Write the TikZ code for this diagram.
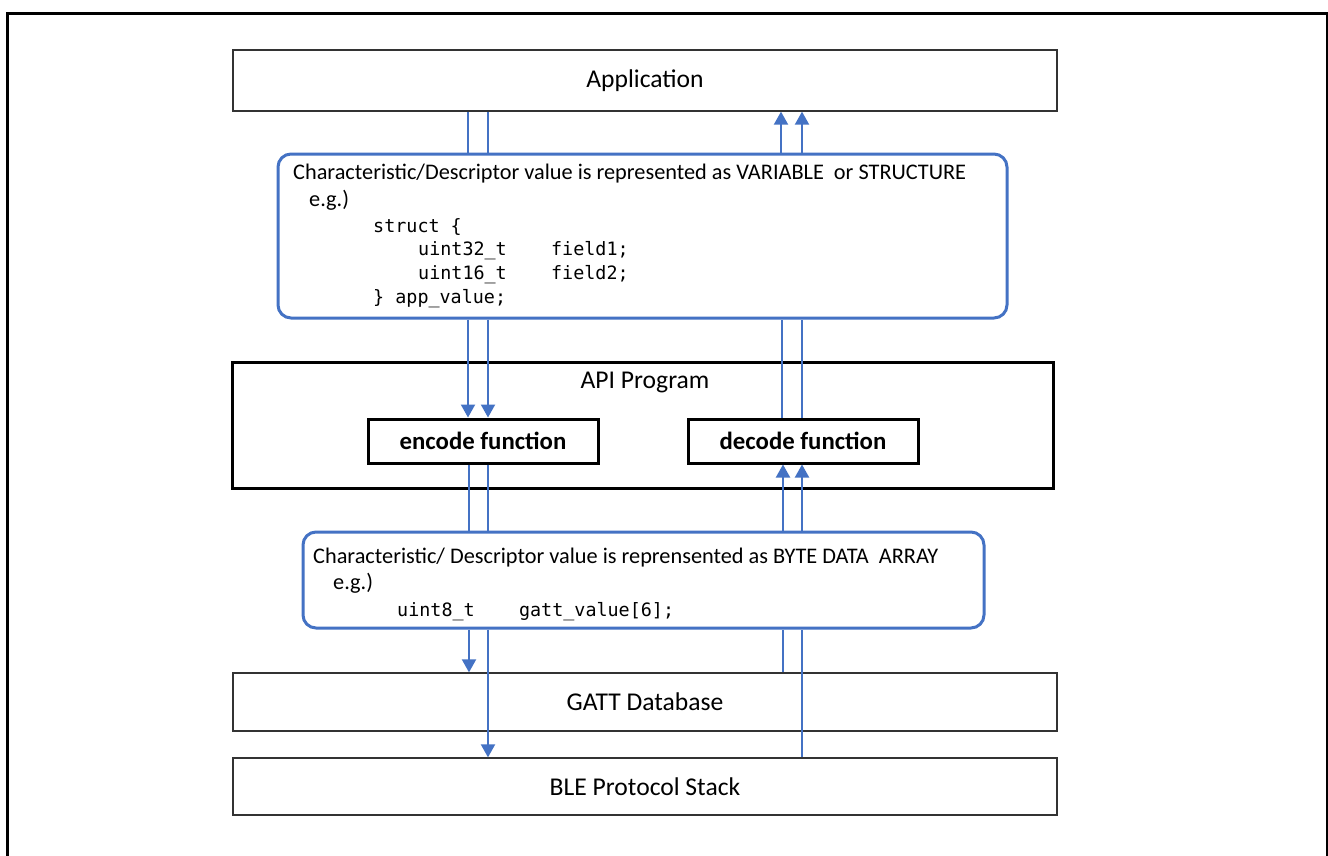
\documentclass[tikz,border=0pt]{standalone}
\usepackage{fontspec}
\setmainfont{Carlito}
\setmonofont{DejaVu Sans Mono}
\usetikzlibrary{arrows.meta}
\definecolor{obl}{HTML}{4472C4}
\tikzset{
  layer/.style={draw=black!80, line width=1.3pt, minimum width=824pt, inner sep=0pt, font=\fontsize{25.6pt}{30pt}\selectfont},
  thick box/.style={draw=black, line width=3pt, inner sep=0pt},
  rbox/.style={draw=obl, line width=3pt, rounded corners=13pt, inner sep=0pt},
  fn/.style={thick box, minimum width=230pt, minimum height=44pt, font=\fontsize{24.8pt}{28pt}\selectfont\bfseries},
  txt/.style={anchor=base west, inner sep=0pt, font=\fontsize{22.3pt}{26pt}\selectfont},
  code/.style={anchor=base west, inner sep=0pt, font=\fontsize{18.4pt}{22pt}\selectfont\ttfamily},
  conn/.style={draw=obl, line width=2pt},
  arr/.style={conn, -{Triangle[width=14pt,length=13pt]}}
}
\begin{document}
\begin{tikzpicture}[x=1pt,y=-1pt]
\clip (0,0) rectangle (1328,855);
\useasboundingbox (0,0) rectangle (1328,855);
\fill[white] (0,0) rectangle (1328,855);
% outer frame
\draw[line width=3pt] (7,880) -- (7,13) -- (1327,13) -- (1327,880);
% boxes
\node[layer, minimum height=61pt] (app) at (645,80.5) {Application};
\node[rbox, minimum width=729pt, minimum height=164pt] (top) at (642.5,236) {};
\node[thick box, minimum width=821pt, minimum height=126pt] (api) at (642.5,425) {};
\node[anchor=base, inner sep=0pt, font=\fontsize{25.6pt}{30pt}\selectfont] (apil) at (645,388) {API Program};
\node[fn] (enc) at (483,441) {encode function};
\node[fn] (dec) at (803,441) {decode function};
\node[rbox, minimum width=681pt, minimum height=96pt] (bot) at (643.5,580) {};
\node[layer, minimum height=58pt] (gatt) at (645,702) {GATT Database};
\node[layer, minimum height=57pt] (ble) at (645,786.5) {BLE Protocol Stack};
% texts in the top box
\node[txt] (t1) at (293,179) {Characteristic/Descriptor value is represented as VARIABLE~ or STRUCTURE};
\node[txt] (t2) at (309,206) {e.g.)};
\node[code] (t3) at (373,232) {struct \{};
\node[code] (t4) at (418,255) {uint32\_t~~~~field1;};
\node[code] (t5) at (418,279) {uint16\_t~~~~field2;};
\node[code] (t6) at (373,303) {\} app\_value;};
% texts in the bottom box
\node[txt] (b1) at (313,563) {Characteristic/ Descriptor value is reprensented as BYTE DATA~ ARRAY};
\node[txt] (b2) at (333,589) {e.g.)};
\node[code] (b3) at (397,616) {uint8\_t~~~~gatt\_value[6];};
% connectors
\draw[conn] (app.south -| 468,0) -- (top.north -| 468,0);
\draw[conn] (app.south -| 488,0) -- (top.north -| 488,0);
\draw[arr] (top.north -| 781,0) -- (app.south -| 781,0);
\draw[arr] (top.north -| 802,0) -- (app.south -| 802,0);
\draw[arr] (top.south -| 468,0) -- (enc.north -| 468,0);
\draw[arr] (top.south -| 488,0) -- (enc.north -| 488,0);
\draw[conn] (dec.north -| 782,0) -- (top.south -| 782,0);
\draw[conn] (dec.north -| 802,0) -- (top.south -| 802,0);
\draw[conn] (enc.south -| 469,0) -- (bot.north -| 469,0);
\draw[conn] (enc.south -| 488,0) -- (bot.north -| 488,0);
\draw[arr] (bot.north -| 783,0) -- (dec.south -| 783,0);
\draw[arr] (bot.north -| 802,0) -- (dec.south -| 802,0);
\draw[arr] (bot.south -| 469,0) -- (gatt.north -| 469,0);
\draw[arr] (bot.south -| 488,0) -- (ble.north -| 488,0);
\draw[conn] (gatt.north -| 783,0) -- (bot.south -| 783,0);
\draw[conn] (ble.north -| 802,0) -- (bot.south -| 802,0);
\end{tikzpicture}
\end{document}
